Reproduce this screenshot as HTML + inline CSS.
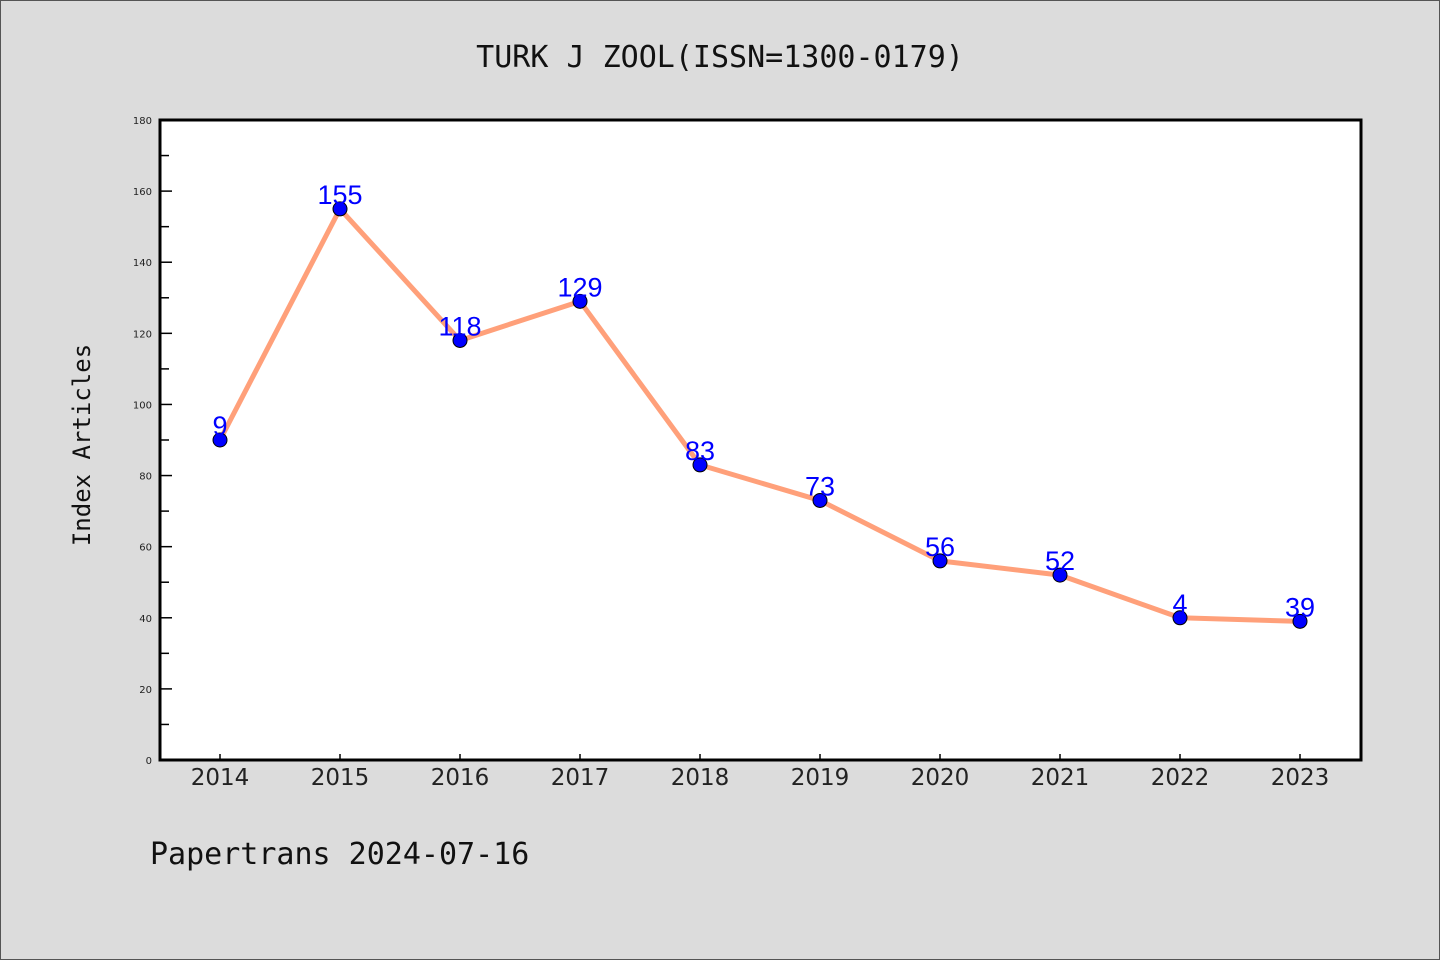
<!DOCTYPE html>
<html><head><meta charset="utf-8"><style>
body{margin:0;background:#dcdcdc;}
svg{display:block;}
</style></head><body>
<svg id="chart" width="1440" height="960" xmlns="http://www.w3.org/2000/svg">
<rect x="0.5" y="0.5" width="1439" height="959" fill="#dcdcdc" stroke="#555"/>
<text x="720" y="67" text-anchor="middle" font-family="'DejaVu Sans Mono','Liberation Mono',monospace" font-size="30" fill="#111">TURK J ZOOL(ISSN=1300-0179)</text>
<rect x="160" y="120" width="1201" height="640" fill="#fff"/>
<g id="axes"></g>
<g id="series"></g>
<rect x="160" y="120" width="1201" height="640" fill="none" stroke="#000" stroke-width="3"/>
<text transform="translate(90,445) rotate(-90)" text-anchor="middle" font-family="'DejaVu Sans Mono','Liberation Mono',monospace" font-size="24" fill="#111">Index Articles</text>
<text x="150" y="864" font-family="'DejaVu Sans Mono','Liberation Mono',monospace" font-size="30" fill="#111">Papertrans 2024-07-16</text>
</svg>
<script>
const categories = ["2014","2015","2016","2017","2018","2019","2020","2021","2022","2023"];
const values = [90,155,118,129,83,73,56,52,40,39];
const pointLabels = ["9","155","118","129","83","73","56","52","4","39"];
const yTicks = [0,20,40,60,80,100,120,140,160,180];
const yMax = 180;
const NS="http://www.w3.org/2000/svg";
const x = i => 220 + i*120;
const y = v => 760 - v/yMax*640;
function mk(t,a,p){const e=document.createElementNS(NS,t);for(const k in a)e.setAttribute(k,a[k]);p.appendChild(e);return e;}
const axes=document.getElementById('axes'), series=document.getElementById('series');
yTicks.forEach(v=>{
  const t=mk('line',{x1:160,x2:172,y1:y(v),y2:y(v),stroke:'#000','stroke-width':1.5},axes);
  
  
  const l=mk('text',{x:152,y:y(v)+4,'text-anchor':'end','font-family':'DejaVu Sans, sans-serif','font-size':10,fill:'#222'},axes);
  l.textContent=v;
  
  
  if(v<yMax){
    const m=mk('line',{x1:160,x2:169,y1:y(v+10),y2:y(v+10),stroke:'#000','stroke-width':1.5},axes);
    
    
  }
});
categories.forEach((c,i)=>{
  const t=mk('line',{x1:x(i),x2:x(i),y1:760,y2:754,stroke:'#000','stroke-width':1.5},axes);
  
  
  const l=mk('text',{x:x(i),y:785,'text-anchor':'middle','font-family':'DejaVu Sans, sans-serif','font-size':23,fill:'#222'},axes);
  l.textContent=c;
  
  
});
const line=mk('polyline',{points:values.map((v,i)=>x(i)+','+y(v)).join(' '),fill:'none',stroke:'#ffa07a','stroke-width':5,'stroke-linejoin':'round'},series);


values.forEach((v,i)=>{
  const p=mk('circle',{cx:x(i),cy:y(v),r:7,fill:'#0000ff',stroke:'#000','stroke-width':1},series);
  
  
  const l=mk('text',{x:x(i),y:y(v)-5,'text-anchor':'middle','font-family':'Liberation Sans, sans-serif','font-size':27,fill:'#0000ff'},series);
  l.textContent=pointLabels[i];
  
  
});
</script>
</body></html>
